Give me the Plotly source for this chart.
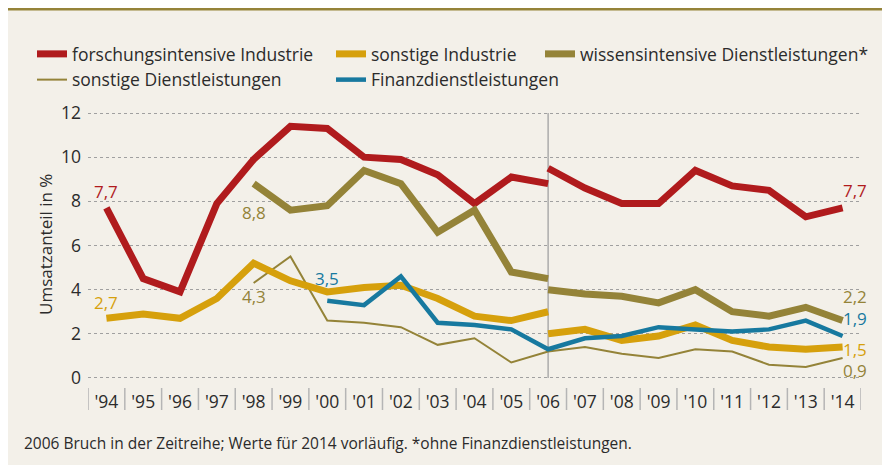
import plotly.graph_objects as go

years = list(range(1994, 2015))
tick_labels = ["'94", "'95", "'96", "'97", "'98", "'99", "'00", "'01", "'02", "'03", "'04",
               "'05", "'06", "'07", "'08", "'09", "'10", "'11", "'12", "'13", "'14"]

# Umsatzanteil in %, 2006 Bruch in der Zeitreihe
years_pre = list(range(1994, 2007))
years_post = list(range(2006, 2015))
forschung_pre = [7.7, 4.5, 3.9, 7.9, 9.9, 11.4, 11.3, 10.0, 9.9, 9.2, 7.9, 9.1, 8.8]
forschung_post = [9.5, 8.6, 7.9, 7.9, 9.4, 8.7, 8.5, 7.3, 7.7]
sonst_ind_pre = [2.7, 2.9, 2.7, 3.6, 5.2, 4.4, 3.9, 4.1, 4.2, 3.6, 2.8, 2.6, 3.0]
sonst_ind_post = [2.0, 2.2, 1.7, 1.9, 2.4, 1.7, 1.4, 1.3, 1.4]
years_wissen_pre = list(range(1998, 2007))
wissen_pre = [8.8, 7.6, 7.8, 9.4, 8.8, 6.6, 7.6, 4.8, 4.5]
wissen_post = [4.0, 3.8, 3.7, 3.4, 4.0, 3.0, 2.8, 3.2, 2.6]
years_sonst_dl = list(range(1998, 2015))
sonst_dl = [4.3, 5.5, 2.6, 2.5, 2.3, 1.5, 1.8, 0.7, 1.2, 1.4, 1.1, 0.9, 1.3, 1.2, 0.6, 0.5, 0.9]
years_finanz = list(range(2000, 2015))
finanz = [3.5, 3.3, 4.6, 2.5, 2.4, 2.2, 1.3, 1.8, 1.9, 2.3, 2.2, 2.1, 2.2, 2.6, 1.9]

RED = "#b01b1d"
YELLOW = "#d6a00c"
OLIVE = "#948338"
BLUE = "#17799f"
BG = "#f3f0e9"
TXT = "#2b2b2b"
FONT = "Open Sans"

W, H = 890, 465
OFF = 8  # page margin around the figure
L, R, T, B = 80, 37, 94, 84


def px(x):
    # screen pixel -> paper x
    return (x - OFF - L) / (W - L - R)


def py(y):
    # screen pixel -> paper y
    return (H - B - (y - OFF)) / (H - T - B)


def joined(x1, y1, x2, y2):
    # break in 2006: two segments in one trace
    return x1 + [None] + x2, y1 + [None] + y2


fig = go.Figure()
x, y = joined(years_pre, forschung_pre, years_post, forschung_post)
fig.add_trace(go.Scatter(x=x, y=y, mode="lines", name="forschungsintensive Industrie",
                         line=dict(color=RED, width=7), legend="legend"))
fig.add_trace(go.Scatter(x=years_sonst_dl, y=sonst_dl, mode="lines", name="sonstige Dienstleistungen",
                         line=dict(color=OLIVE, width=2), legend="legend"))
x, y = joined(years_pre, sonst_ind_pre, years_post, sonst_ind_post)
fig.add_trace(go.Scatter(x=x, y=y, mode="lines", name="sonstige Industrie",
                         line=dict(color=YELLOW, width=7), legend="legend2"))
fig.add_trace(go.Scatter(x=years_finanz, y=finanz, mode="lines", name="Finanzdienstleistungen",
                         line=dict(color=BLUE, width=4.5), legend="legend2"))
x, y = joined(years_wissen_pre, wissen_pre, years_post, wissen_post)
fig.add_trace(go.Scatter(x=x, y=y, mode="lines", name="wissensintensive Dienstleistungen*",
                         line=dict(color=OLIVE, width=7), legend="legend3"))

labels = [
    ("7,7", 1994, 8.45, RED, "center"),
    ("2,7", 1994, 3.4, YELLOW, "center"),
    ("8,8", 1998, 7.5, OLIVE, "center"),
    ("4,3", 1998, 3.7, OLIVE, "center"),
    ("3,5", 2000, 4.5, BLUE, "center"),
    ("7,7", 2014, 8.5, RED, "left"),
    ("2,2", 2014, 3.7, OLIVE, "left"),
    ("1,9", 2014, 2.7, BLUE, "left"),
    ("1,5", 2014, 1.3, YELLOW, "left"),
    ("0,9", 2014, 0.35, OLIVE, "left"),
]
for text, lx, ly, col, anc in labels:
    fig.add_annotation(x=lx, y=ly, text=text, showarrow=False, xanchor=anc, yanchor="middle",
                       xshift=0 if anc == "center" else -2,
                       font=dict(size=17, color=col, family=FONT))

shapes = [
    dict(type="line", xref="paper", yref="paper", x0=px(0), x1=px(W + 10), y0=py(9), y1=py(9),
         line=dict(color="#958339", width=3)),
    dict(type="line", xref="x", yref="y", x0=2006, x1=2006, y0=0, y1=12,
         line=dict(color="#ababab", width=1.5), layer="below"),
]
for yr in years + [2015]:
    shapes.append(dict(type="line", xref="x", yref="paper", x0=yr - 0.5, x1=yr - 0.5,
                       y0=py(388), y1=py(410), line=dict(color="#b5b5b5", width=1.5)))

fig.add_annotation(xref="paper", yref="paper", x=px(45), y=py(245), xanchor="center", yanchor="middle",
                   text="Umsatzanteil in %", textangle=-90, showarrow=False,
                   font=dict(size=17, color=TXT, family=FONT))
fig.add_annotation(xref="paper", yref="paper", x=px(22), y=py(443), xanchor="left", yanchor="middle",
                   text="2006 Bruch in der Zeitreihe; Werte für 2014 vorläufig. *ohne Finanzdienstleistungen.",
                   showarrow=False, font=dict(size=15.5, color=TXT, family=FONT))

leg = dict(orientation="v", xanchor="left", yanchor="top", y=py(36), bgcolor="rgba(0,0,0,0)",
           font=dict(size=17.5, color=TXT, family=FONT), borderwidth=0)
fig.update_layout(
    width=W, height=H,
    margin=dict(l=L, r=R, t=T, b=B, autoexpand=False),
    paper_bgcolor=BG, plot_bgcolor=BG,
    font=dict(family=FONT, color=TXT),
    shapes=shapes,
    legend=dict(leg, x=px(32)),
    legend2=dict(leg, x=px(331)),
    legend3=dict(leg, x=px(540)),
    xaxis=dict(range=[1993.5, 2014.5], tickvals=years, ticktext=tick_labels, showgrid=False,
               zeroline=False, showline=False, ticks="", tickfont=dict(size=17.5, color=TXT)),
    yaxis=dict(range=[-0.5, 12.5], tickvals=list(range(0, 13, 2)), showgrid=True,
               gridcolor="#a0a0a0", griddash="dot", gridwidth=1, zeroline=False, showline=False,
               ticks="", ticklabelstandoff=6, tickfont=dict(size=17.5, color=TXT)),
)

fig.write_html("out.html")
